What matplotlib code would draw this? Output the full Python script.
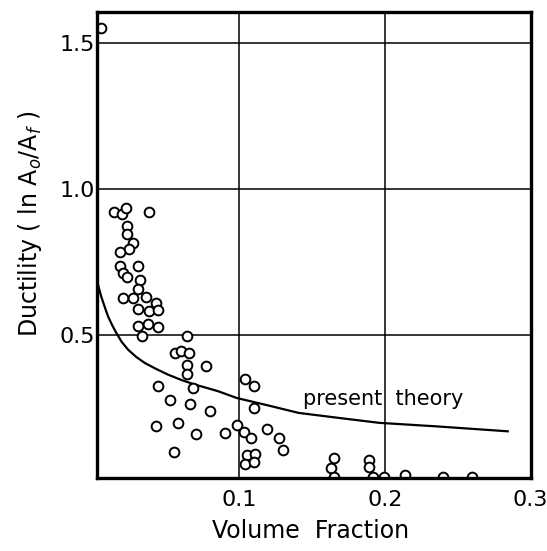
import matplotlib
matplotlib.use('Agg')
import matplotlib.pyplot as plt

# measured points (volume fraction, ductility)
vol_frac = [0.005,
            0.014, 0.019, 0.022, 0.038, 0.023, 0.023, 0.027, 0.024, 0.018,
            0.030, 0.018, 0.020, 0.023, 0.032, 0.030, 0.020, 0.027, 0.036,
            0.043, 0.030, 0.038, 0.044, 0.030, 0.037, 0.044, 0.033, 0.064,
            0.056, 0.060, 0.065, 0.064, 0.077, 0.064, 0.044, 0.068, 0.104,
            0.110, 0.052, 0.066, 0.080, 0.110, 0.043, 0.058, 0.070, 0.090,
            0.098, 0.103, 0.108, 0.119, 0.127, 0.130, 0.055, 0.105, 0.111,
            0.104, 0.110, 0.165, 0.163, 0.189, 0.189, 0.165, 0.192, 0.199,
            0.214, 0.240, 0.260]
ductility = [1.55,
             0.919, 0.914, 0.934, 0.919, 0.871, 0.845, 0.814, 0.793, 0.783,
             0.734, 0.736, 0.711, 0.698, 0.688, 0.656, 0.626, 0.626, 0.629,
             0.608, 0.588, 0.580, 0.586, 0.531, 0.538, 0.526, 0.494, 0.494,
             0.437, 0.443, 0.437, 0.397, 0.391, 0.366, 0.325, 0.317, 0.348,
             0.325, 0.277, 0.263, 0.240, 0.249, 0.188, 0.198, 0.161, 0.163,
             0.192, 0.166, 0.146, 0.178, 0.146, 0.106, 0.098, 0.089, 0.092,
             0.058, 0.063, 0.078, 0.043, 0.070, 0.047, 0.012, 0.012, 0.012,
             0.018, 0.012, 0.012]

# present theory curve
theory_x = [0.0016, 0.003, 0.005, 0.0075, 0.0097, 0.0125, 0.0154, 0.019,
            0.0234, 0.029, 0.035, 0.043, 0.051, 0.060, 0.0694, 0.078,
            0.0855, 0.0982, 0.1177, 0.1407, 0.168, 0.196, 0.235, 0.2843]
theory_y = [0.711, 0.668, 0.631, 0.594, 0.563, 0.533, 0.506, 0.476,
            0.449, 0.424, 0.403, 0.382, 0.363, 0.345, 0.329, 0.317,
            0.306, 0.283, 0.260, 0.232, 0.215, 0.198, 0.186, 0.169]

xticks = [0.1, 0.2, 0.3]
xtick_labels = ['0.1', '0.2', '0.3']
yticks = [0.5, 1.0, 1.5]
ytick_labels = ['0.5', '1.0', '1.5']

fig = plt.figure(figsize=(5.47, 5.51), dpi=100)
ax = fig.add_axes([0.177, 0.133, 0.793, 0.845])

ax.plot(theory_x, theory_y, color='black', linewidth=1.6)
ax.plot(vol_frac, ductility, linestyle='none', marker='o', markersize=7,
        markerfacecolor='white', markeredgecolor='black', markeredgewidth=1.4)

ax.text(0.1434, 0.26, 'present  theory', fontsize=15, va='baseline', ha='left')

ax.set_xlim(0.002, 0.30)
ax.set_ylim(0.01, 1.605)
ax.set_xticks(xticks)
ax.set_xticklabels(xtick_labels)
ax.set_yticks(yticks)
ax.set_yticklabels(ytick_labels)
ax.tick_params(length=0, labelsize=16)
ax.tick_params(axis='x', pad=9)
ax.tick_params(axis='y', pad=1)
ax.grid(True, color='black', linewidth=1.1)
ax.set_axisbelow(True)
for s in ax.spines.values():
    s.set_linewidth(2.4)

ax.set_xlabel('Volume  Fraction', fontsize=17)
ax.set_ylabel(r'Ductility ( ln A$_o$/A$_f$ )', fontsize=17)
ax.xaxis.set_label_coords(0.493, -0.088)
ax.yaxis.set_label_coords(-0.121, 0.545)

fig.savefig('out.png', dpi=100)
